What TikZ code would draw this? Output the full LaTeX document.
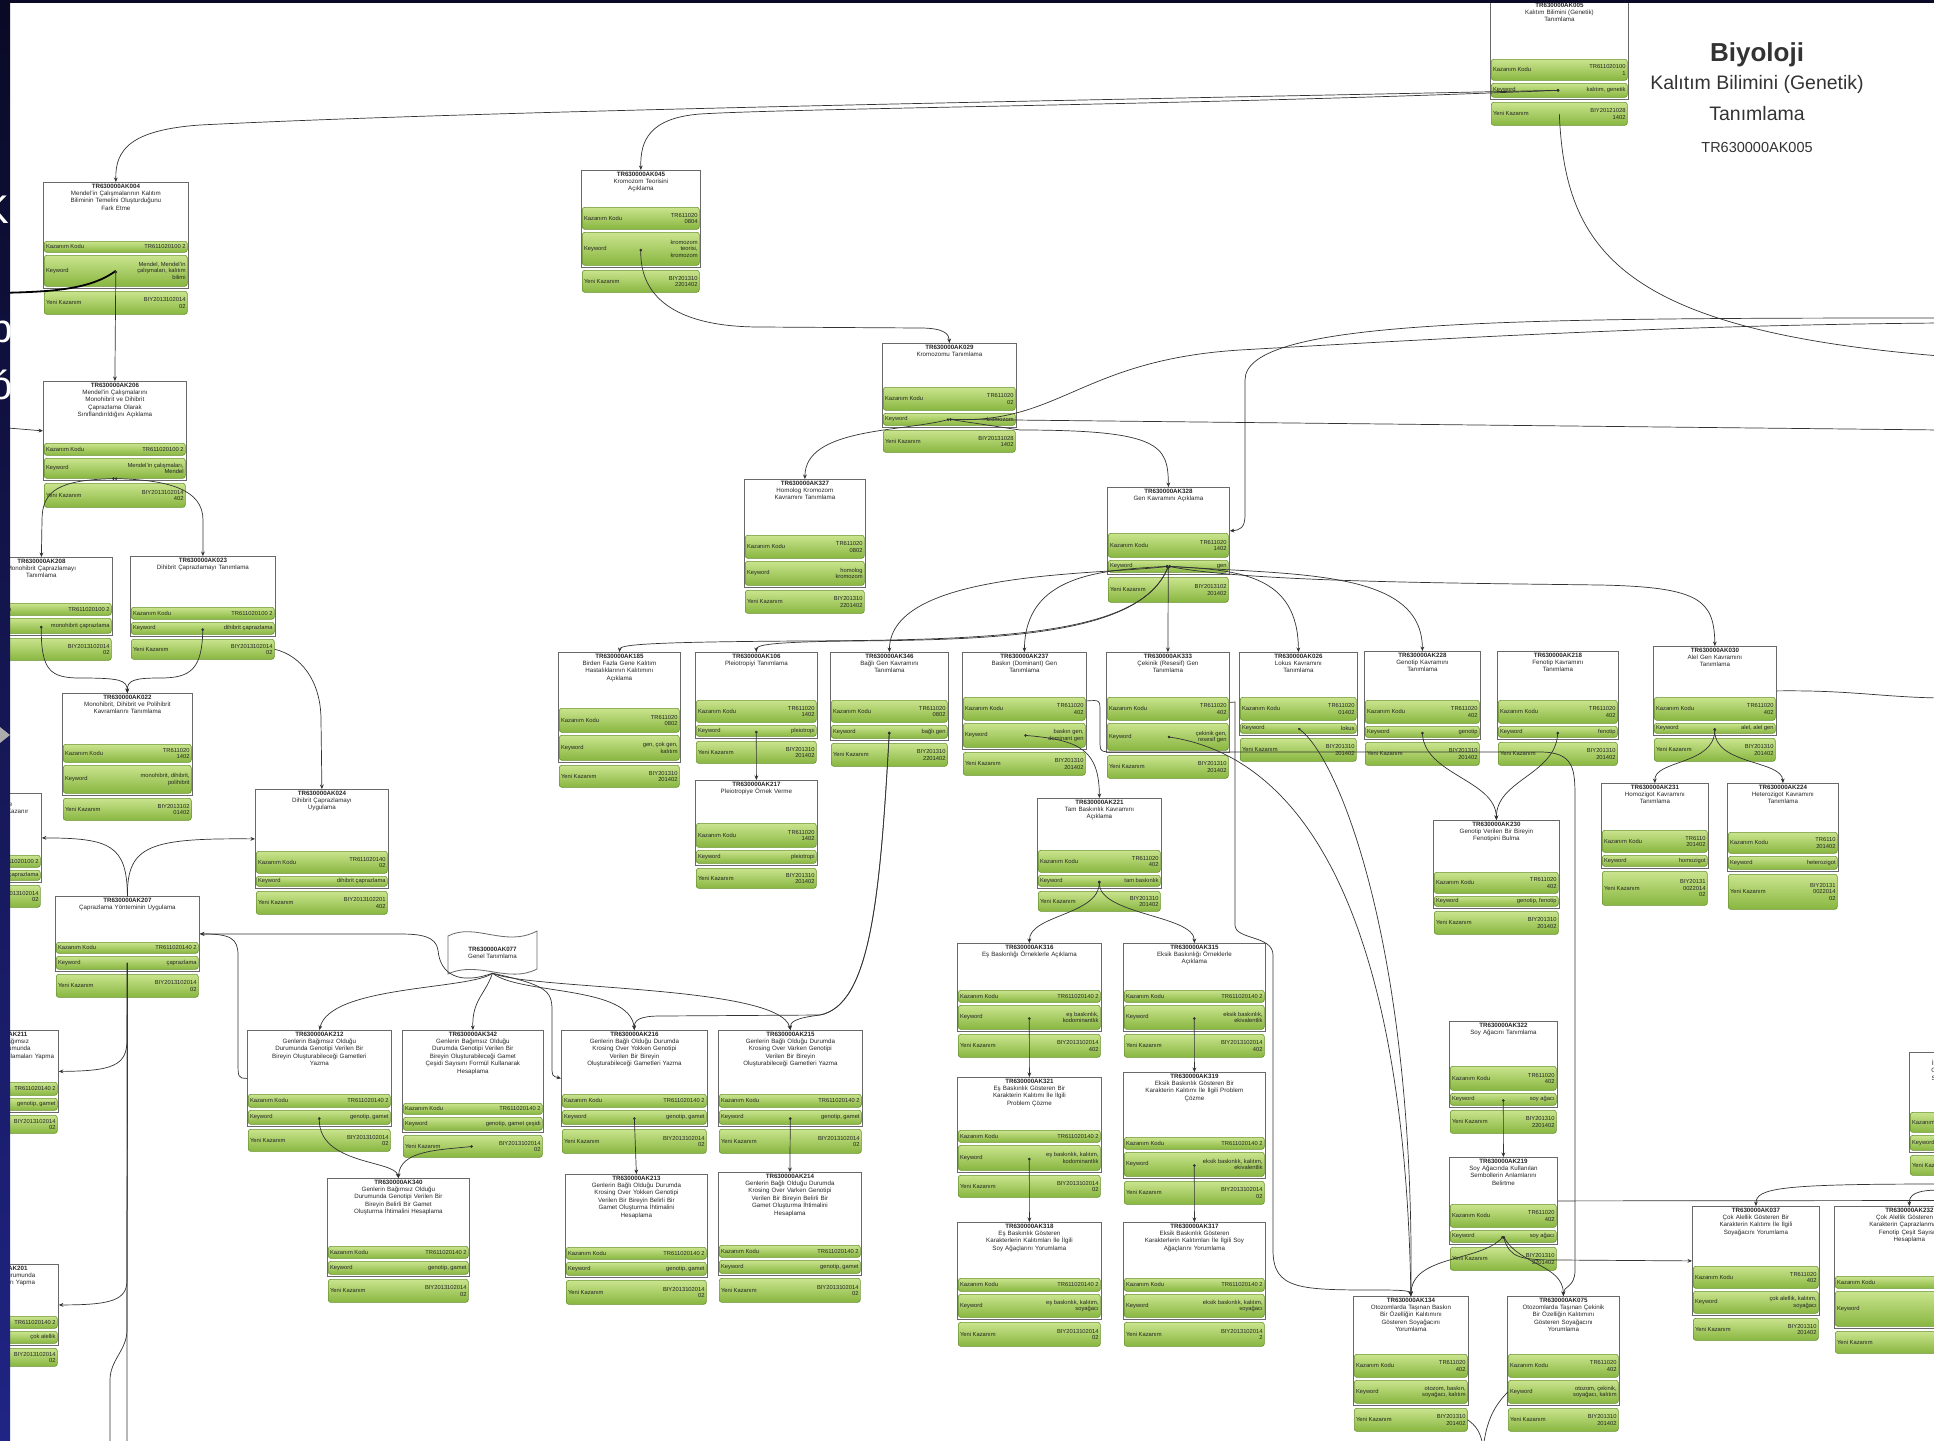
\documentclass[tikz,border=0pt]{standalone}
\usepackage{fontspec}
\setmainfont{Liberation Sans}
\usetikzlibrary{arrows.meta}
\definecolor{kzgt}{RGB}{202,228,142}
\definecolor{kzgb}{RGB}{136,182,64}
\definecolor{kzgd}{RGB}{104,146,46}
\definecolor{kzline}{RGB}{105,105,105}
\definecolor{navyA}{RGB}{10,10,38}
\definecolor{navyB}{RGB}{32,36,132}
\tikzset{
 kzbox/.style={draw=kzline, fill=white, line width=0.8pt, inner sep=0pt},
 kztitle/.style={inner sep=0pt, align=center, font=\fontsize{6.2}{7.4}\selectfont, text=black!85},
 kzbarst/.style={draw=kzgd, line width=0.6pt, rounded corners=2.5pt, top color=kzgt, bottom color=kzgb, inner sep=0pt},
 kzlab/.style={inner sep=1.8pt, font=\fontsize{5.8}{6.5}\selectfont, text=black!85},
 con/.style={draw=black!80, line width=0.7pt, -{Stealth[length=4.5pt,width=3.8pt]}},
 cond/.style={draw=black!80, line width=0.7pt, {Circle[length=2.6pt]}-{Stealth[length=4.5pt,width=3.8pt]}},
 link/.style={draw=black!80, line width=0.7pt},
 bigtitle/.style={text=black!80, inner sep=0pt},
}
\pgfkeys{/kz/.cd,
 name/.store in=\kzname, x/.store in=\kzx, y/.store in=\kzy, w/.store in=\kzw,
 th/.store in=\kzth, a/.store in=\kza, b/.store in=\kzb, c/.store in=\kzc,
 id/.store in=\kzid, t/.store in=\kzt, kk/.store in=\kzkk, kw/.store in=\kzkw, yk/.store in=\kzyk}
\newcommand\kzbar[5]{%
 \node[kzbarst, minimum width=\kzbw pt, minimum height=#3 pt, anchor=north west] (#1) at (\kzx+1,#2) {};
 \node[kzlab, anchor=west] at (#1.west) {#4};
 \node[kzlab, anchor=east, align=right] at (#1.east) {#5};
}
\newcommand\kz[1]{%
 \pgfkeys{/kz/.cd, w=122, th=50, a=22, b=12, c=22, t={}, kk={TR611020\\1402}, kw={gen}, yk={BIY2013102014\\02}, #1}%
 \pgfmathsetmacro\kzH{\kzth+\kza+\kzb+5}%
 \pgfmathsetmacro\kzya{\kzy+\kzth}%
 \pgfmathsetmacro\kzyb{\kzy+\kzth+\kza+3}%
 \pgfmathsetmacro\kzyc{\kzy+\kzH+3}%
 \pgfmathsetmacro\kzbw{\kzw-2}%
 \pgfmathsetmacro\kztw{\kzw-4}%
 \node[kzbox, minimum width=\kzw pt, minimum height=\kzH pt, anchor=north west] (\kzname) at (\kzx,\kzy) {};
 \node[kztitle, text width=\kztw pt, anchor=north] at ([yshift=-1.5pt]\kzname.north) {\textbf{\kzid}\\\kzt};
 \kzbar{\kzname-kk}{\kzya}{\kza}{Kazanım Kodu}{\kzkk}
 \kzbar{\kzname-kw}{\kzyb}{\kzb}{Keyword}{\kzkw}
 \kzbar{\kzname-yk}{\kzyc}{\kzc}{Yeni Kazanım}{\kzyk}
}
\begin{document}
\begin{tikzpicture}[x=1pt,y=-1pt]
\useasboundingbox (0,0) rectangle (1934,1440);
\clip (0,0) rectangle (1934,1440);
\fill[white] (0,0) rectangle (1934,1440);

% ---------- nodes ----------
\kz{name=ak005, x=1490, y=1, w=138, th=58, a=21, b=14, c=23, id=TR630000AK005, t={Kalıtım Bilimini (Genetik)\\Tanımlama}, kk={TR611020100\\1}, kw={kalıtım, genetik}, yk={BIY20121028\\1402}}
\kz{name=ak004, x=43, y=182, w=145, th=59, a=11, b=31, c=23, id=TR630000AK004, t={Mendel'in Çalışmalarının Kalıtım\\Biliminin Temelini Oluşturduğunu\\Fark Etme}, kk={TR611020100 2}, kw={Mendel, Mendel'in\\çalışmaları, kalıtım\\bilimi}, yk={BIY2013102014\\02}}
\kz{name=ak045, x=581, y=170, w=119, th=37, a=22, b=33, c=22, id=TR630000AK045, t={Kromozom Teorisini\\Açıklama}, kk={TR611020\\0804}, kw={kromozom\\teorisi,\\kromozom}, yk={BIY201310\\2201402}}
\kz{name=ak029, x=882, y=343, w=134, th=44, a=23, b=12, c=22, id=TR630000AK029, t={Kromozomu Tanımlama}, kk={TR611020\\02}, kw={kromozom}, yk={BIY20131028\\1402}}
\kz{name=ak206, x=43, y=381, w=143, th=62, a=12, b=20, c=24, id=TR630000AK206, t={Mendel'in Çalışmalarını\\Monohibrit ve Dihibrit\\Çaprazlama Olarak\\Sınıflandırıldığını Açıklama}, kk={TR611020100 2}, kw={Mendel'in çalışmaları,\\Mendel}, yk={BIY2013102014\\402}}
\kz{name=ak208, x=-30, y=557, w=142, th=46, a=12, b=15, c=22, id=TR630000AK208, t={Monohibrit Çaprazlamayı\\Tanımlama}, kk={TR611020100 2}, kw={monohibrit çaprazlama}, yk={BIY2013102014\\02}}
\kz{name=ak023, x=130, y=556, w=145, th=51, a=12, b=12, c=20, id=TR630000AK023, t={Dihibrit Çaprazlamayı Tanımlama}, kk={TR611020100 2}, kw={dihibrit çaprazlama}, yk={BIY2013102014\\02}}
\kz{name=ak022, x=62, y=693, w=130, th=51, a=18, b=28, c=22, id=TR630000AK022, t={Monohibrit, Dihibrit ve Polihibrit\\Kavramlarını Tanımlama}, kk={TR611020\\1402}, kw={monohibrit, dihibrit,\\polihibrit}, yk={BIY2013102\\01402}}
\kz{name=ak024, x=255, y=789, w=133, th=62, a=22, b=10, c=23, id=TR630000AK024, t={Dihibrit Çaprazlamayı\\Uygulama}, kk={TR611020140\\02}, kw={dihibrit çaprazlama}, yk={BIY2013102201\\402}}
\kz{name=ak207, x=55, y=896, w=144, th=46, a=11, b=13, c=23, id=TR630000AK207, t={Çaprazlama Yönteminin Uygulama}, kk={TR611020140 2}, kw={çaprazlama}, yk={BIY2013102014\\02}}
\kz{name=l1, x=-90, y=793, w=131, th=62, a=12, b=10, c=22, id=TR630000AK209, t={Monohibrit Çaprazlama İle\\İlgili Problem Çözme Becerisi Kazanır\\Uygulama}, kk={TR611020100 2}, kw={monohibrit çaprazlama}, yk={BIY2013102014\\02}}
\kz{name=l2, x=-52, y=1030, w=110, th=52, a=13, b=12, c=18, id=TR630000AK211, t={Genlerin Bağımsız Olduğu Durumunda\\Gamet Çeşidi Hesaplamaları Yapma}, kk={TR611020140 2}, kw={genotip, gamet}, yk={BIY2013102014\\02}}
\kz{name=l3, x=-52, y=1264, w=110, th=52, a=12, b=12, c=18, id=TR630000AK201, t={Çok Alellik Durumunda\\Çaprazlamaları Yapma}, kk={TR611020140 2}, kw={çok alellik}, yk={BIY2013102014\\02}}

\kz{name=ak327, x=744, y=479, w=121, th=56, a=23, b=24, c=23, id=TR630000AK327, t={Homolog Kromozom\\Kavramını Tanımlama}, kk={TR611020\\0802}, kw={homolog\\kromozom}, yk={BIY201310\\2201402}}
\kz{name=ak328, x=1107, y=487, w=122, th=46, a=24, b=12, c=25, id=TR630000AK328, t={Gen Kavramını Açıklama}, kk={TR611020\\1402}, kw={gen}, yk={BIY2013102\\201402}}
\kz{name=ak185, x=558, y=652, w=122, th=56, a=24, b=25, c=22, id=TR630000AK185, t={Birden Fazla Gene Kalıtım\\Hastalıklarının Kalıtımını\\Açıklama}, kk={TR611020\\0802}, kw={gen, çok gen,\\kalıtım}, yk={BIY201310\\201402}}
\kz{name=ak106, x=695, y=652, w=122, th=48, a=22, b=11, c=22, id=TR630000AK106, t={Pleiotropiyi Tanımlama}, kk={TR611020\\1402}, kw={pleiotropi}, yk={BIY201310\\201402}}
\kz{name=ak217, x=695, y=780, w=122, th=43, a=24, b=13, c=20, id=TR630000AK217, t={Pleiotropiye Örnek Verme}, kk={TR611020\\1402}, kw={pleiotropi}, yk={BIY201310\\201402}}
\kz{name=ak346, x=830, y=652, w=118, th=48, a=22, b=13, c=23, id=TR630000AK346, t={Bağlı Gen Kavramını\\Tanımlama}, kk={TR611020\\0802}, kw={bağlı gen}, yk={BIY201310\\2201402}}
\kz{name=ak237, x=962, y=652, w=124, th=45, a=23, b=24, c=23, id=TR630000AK237, t={Baskın (Dominant) Gen\\Tanımlama}, kk={TR611020\\402}, kw={baskın gen,\\dominant gen}, yk={BIY201310\\201402}}
\kz{name=ak333, x=1106, y=652, w=123, th=45, a=23, b=27, c=23, id=TR630000AK333, t={Çekinik (Resesif) Gen\\Tanımlama}, kk={TR611020\\402}, kw={çekinik gen,\\resesif gen}, yk={BIY201310\\201402}}
\kz{name=ak026, x=1239, y=652, w=118, th=45, a=23, b=10, c=23, id=TR630000AK026, t={Lokus Kavramını\\Tanımlama}, kk={TR611020\\01402}, kw={lokus}, yk={BIY201310\\201402}}
\kz{name=ak228, x=1364, y=651, w=116, th=49, a=23, b=11, c=23, id=TR630000AK228, t={Genotip Kavramını\\Tanımlama}, kk={TR611020\\402}, kw={genotip}, yk={BIY201310\\201402}}
\kz{name=ak218, x=1497, y=651, w=121, th=49, a=23, b=11, c=23, id=TR630000AK218, t={Fenotip Kavramını\\Tanımlama}, kk={TR611020\\402}, kw={fenotip}, yk={BIY201310\\201402}}
\kz{name=ak030, x=1653, y=646, w=123, th=51, a=23, b=10, c=23, id=TR630000AK030, t={Alel Gen Kavramını\\Tanımlama}, kk={TR611020\\402}, kw={alel, alel gen}, yk={BIY201310\\201402}}
\kz{name=ak231, x=1601, y=783, w=107, th=47, a=22, b=11, c=34, id=TR630000AK231, t={Homozigot Kavramını\\Tanımlama}, kk={TR6110\\201402}, kw={homozigot}, yk={BIY20131\\0022014\\02}}
\kz{name=ak224, x=1727, y=783, w=111, th=49, a=21, b=13, c=35, id=TR630000AK224, t={Heterozigot Kavramını\\Tanımlama}, kk={TR6110\\201402}, kw={heterozigot}, yk={BIY20131\\0022014\\02}}
\kz{name=ak230, x=1433, y=820, w=126, th=52, a=21, b=10, c=23, id=TR630000AK230, t={Genotip Verilen Bir Bireyin\\Fenotipini Bulma}, kk={TR611020\\402}, kw={genotip, fenotip}, yk={BIY201310\\201402}}
\kz{name=ak221, x=1037, y=798, w=124, th=52, a=22, b=11, c=20, id=TR630000AK221, t={Tam Baskınlık Kavramını\\Açıklama}, kk={TR611020\\402}, kw={tam baskınlık}, yk={BIY201310\\201402}}
\kz{name=ak316, x=957, y=943, w=144, th=47, a=12, b=24, c=23, id=TR630000AK316, t={Eş Baskınlığı Örneklerle Açıklama}, kk={TR611020140 2}, kw={eş baskınlık,\\kodominantlık}, yk={BIY2013102014\\402}}
\kz{name=ak315, x=1123, y=943, w=142, th=47, a=12, b=24, c=23, id=TR630000AK315, t={Eksik Baskınlığı Örneklerle\\Açıklama}, kk={TR611020140 2}, kw={eksik baskınlık,\\ekivalentlik}, yk={BIY2013102014\\402}}
\kz{name=ak321, x=957, y=1077, w=144, th=53, a=12, b=25, c=22, id=TR630000AK321, t={Eş Baskınlık Gösteren Bir\\Karakterin Kalıtımı İle İlgili\\Problem Çözme}, kk={TR611020140 2}, kw={eş baskınlık, kalıtım,\\kodominantlık}, yk={BIY2013102014\\02}}
\kz{name=ak319, x=1123, y=1072, w=142, th=65, a=12, b=24, c=23, id=TR630000AK319, t={Eksik Baskınlık Gösteren Bir\\Karakterin Kalıtımı İle İlgili Problem\\Çözme}, kk={TR611020140 2}, kw={eksik baskınlık, kalıtım,\\ekivalentlik}, yk={BIY2013102014\\02}}
\kz{name=ak318, x=957, y=1222, w=144, th=56, a=13, b=23, c=24, id=TR630000AK318, t={Eş Baskınlık Gösteren\\Karakterlerin Kalıtımları İle İlgili\\Soy Ağaçlarını Yorumlama}, kk={TR611020140 2}, kw={eş baskınlık, kalıtım,\\soyağacı}, yk={BIY2013102014\\02}}
\kz{name=ak317, x=1123, y=1222, w=142, th=56, a=13, b=23, c=24, id=TR630000AK317, t={Eksik Baskınlık Gösteren\\Karakterlerin Kalıtımları İle İlgili Soy\\Ağaçlarını Yorumlama}, kk={TR611020140 2}, kw={eksik baskınlık, kalıtım,\\soyağacı}, yk={BIY2013102014\\2}}

\kz{name=ak212, x=247, y=1030, w=144, th=64, a=13, b=14, c=22, id=TR630000AK212, t={Genlerin Bağımsız Olduğu\\Durumunda Genotipi Verilen Bir\\Bireyin Oluşturabileceği Gametleri\\Yazma}, kk={TR611020140 2}, kw={genotip, gamet}, yk={BIY2013102014\\02}}
\kz{name=ak342, x=402, y=1030, w=141, th=73, a=11, b=13, c=22, id=TR630000AK342, t={Genlerin Bağımsız Olduğu\\Durumda Genotipi Verilen Bir\\Bireyin Oluşturabileceği Gamet\\Çeşidi Sayısını Formül Kullanarak\\Hesaplama}, kk={TR611020140 2}, kw={genotip, gamet çeşidi}, yk={BIY2013102014\\02}}
\kz{name=ak216, x=561, y=1030, w=146, th=64, a=13, b=14, c=24, id=TR630000AK216, t={Genlerin Bağlı Olduğu Durumda\\Krosing Over Yokken Genotipi\\Verilen Bir Bireyin\\Oluşturabileceği Gametleri Yazma}, kk={TR611020140 2}, kw={genotip, gamet}, yk={BIY2013102014\\02}}
\kz{name=ak215, x=718, y=1030, w=144, th=64, a=13, b=14, c=24, id=TR630000AK215, t={Genlerin Bağlı Olduğu Durumda\\Krosing Over Varken Genotipi\\Verilen Bir Bireyin\\Oluşturabileceği Gametleri Yazma}, kk={TR611020140 2}, kw={genotip, gamet}, yk={BIY2013102014\\02}}
\kz{name=ak340, x=327, y=1178, w=142, th=68, a=12, b=13, c=23, id=TR630000AK340, t={Genlerin Bağımsız Olduğu\\Durumunda Genotipi Verilen Bir\\Bireyin Belirli Bir Gamet\\Oluşturma İhtimalini Hesaplama}, kk={TR611020140 2}, kw={genotip, gamet}, yk={BIY2013102014\\02}}
\kz{name=ak213, x=565, y=1174, w=142, th=73, a=12, b=13, c=24, id=TR630000AK213, t={Genlerin Bağlı Olduğu Durumda\\Krosing Over Yokken Genotipi\\Verilen Bir Bireyin Belirli Bir\\Gamet Oluşturma İhtimalini\\Hesaplama}, kk={TR611020140 2}, kw={genotip, gamet}, yk={BIY2013102014\\02}}
\kz{name=ak214, x=718, y=1172, w=143, th=73, a=12, b=13, c=24, id=TR630000AK214, t={Genlerin Bağlı Olduğu Durumda\\Krosing Over Varken Genotipi\\Verilen Bir Bireyin Belirli Bir\\Gamet Oluşturma İhtimalini\\Hesaplama}, kk={TR611020140 2}, kw={genotip, gamet}, yk={BIY2013102014\\02}}

\kz{name=ak322, x=1449, y=1021, w=108, th=45, a=24, b=12, c=23, id=TR630000AK322, t={Soy Ağacını Tanımlama}, kk={TR611020\\402}, kw={soy ağacı}, yk={BIY201310\\2201402}}
\kz{name=ak219, x=1449, y=1157, w=108, th=47, a=23, b=12, c=23, id=TR630000AK219, t={Soy Ağacında Kullanılan\\Sembollerin Anlamlarını\\Belirtme}, kk={TR611020\\402}, kw={soy ağacı}, yk={BIY201310\\2201402}}
\kz{name=ak134, x=1353, y=1296, w=115, th=58, a=23, b=23, c=23, id=TR630000AK134, t={Otozomlarda Taşınan Baskın\\Bir Özelliğin Kalıtımını\\Gösteren Soyağacını\\Yorumlama}, kk={TR611020\\402}, kw={otozom, baskın,\\soyağacı, kalıtım}, yk={BIY201310\\201402}}
\kz{name=ak075, x=1507, y=1296, w=112, th=58, a=23, b=23, c=23, id=TR630000AK075, t={Otozomlarda Taşınan Çekinik\\Bir Özelliğin Kalıtımını\\Gösteren Soyağacını\\Yorumlama}, kk={TR611020\\402}, kw={otozom, çekinik,\\soyağacı, kalıtım}, yk={BIY201310\\201402}}
\kz{name=ak037, x=1692, y=1206, w=127, th=60, a=22, b=22, c=22, id=TR630000AK037, t={Çok Alellik Gösteren Bir\\Karakterin Kalıtımı İle İlgili\\Soyağacını Yorumlama}, kk={TR611020\\402}, kw={çok alellik, kalıtım,\\soyağacı}, yk={BIY201310\\201402}}
\kz{name=ak232, x=1834, y=1206, w=150, th=70, a=12, b=35, c=22, id=TR630000AK232, t={Çok Alellik Gösteren Bir\\Karakterin Çaprazlanması ile\\Fenotip Çeşit Sayısını\\Hesaplama}, kk={TR611020140 2}, kw={çok alellik,\\çaprazlama,\\fenotip}, yk={BIY2013102014\\02}}
\kz{name=r1, x=1909, y=1052, w=100, th=60, a=20, b=15, c=20, id=TR630000AK233, t={İki Gen Bakımından\\Oluşabilecek Gamet\\Sayısını Hesaplama}, kk={TR611020\\402}, kw={gamet}, yk={BIY201310\\201402}}

% ribbon node
\draw[kzbox] (448,936) .. controls (475,922) and (505,948) .. (537,931) -- (537,969) .. controls (508,984) and (478,960) .. (448,974) -- cycle;
\node[kztitle, minimum width=89pt, minimum height=40pt] (ak077) at (492.5,953) {\textbf{TR630000AK077}\\Genel Tanımlama};

% ---------- exit coordinates ----------
\coordinate (thickL) at (-5,293);
\coordinate (linA) at (8,428);
\coordinate (eA) at (1940,356);
\coordinate (eB) at (1940,323);
\coordinate (eC) at (1940,318);
\coordinate (eD) at (1940,430);
\coordinate (eE) at (1940,698);
\coordinate (eF) at (1940,1200.5);
\coordinate (eG) at (1940,1184);
\coordinate (eH) at (1940,1190);
\coordinate (bA) at (127,1450);
\coordinate (bB) at (110,1450);
\coordinate (bC) at (1483,1450);

% ---------- connectors ----------
\draw[cond] (ak005-kw.center) .. controls (1100,100) and (500,110) .. (200,125) .. controls (130,130) and (115,150) .. (ak004.north);
\draw[cond] (ak005-kw.center) .. controls (1200,105) and (800,108) .. (700,114) .. controls (650,118) and (640,140) .. (ak045.north);
\draw[link] (ak005-yk.center) .. controls (1565,250) and (1620,330) .. (eA);
\draw[link, line width=1.8pt, black] (thickL) .. controls (50,292) and (90,290) .. (ak004-kw.center);
\draw[cond] (ak004-kw.center) -- (ak206.north);
\draw[con] (linA) -- (ak206.west);
\draw[cond] (ak045-kw.center) .. controls (640,300) and (680,327) .. (760,327) -- (920,328) .. controls (946,328) and (949,335) .. (ak029.north);
\draw[cond] (ak029-kw.center) .. controls (900,432) and (805,428) .. (ak327.north);
\draw[cond] (ak029-kw.center) -- (1020,430) .. controls (1160,430) and (1168,445) .. (ak328.north);
\draw[link] (ak029-kw.center) -- (eD);
\draw[link] (ak029-kw.center) .. controls (1060,425) and (1080,360) .. (1240,350) .. controls (1500,335) and (1700,325) .. (eB);
\draw[con] (eC) .. controls (1500,318) and (1245,320) .. (1245,380) -- (1245,515) .. controls (1245,528) and (1240,530) .. (ak328.east);

\draw[cond] (ak206-kw.south) .. controls (60,480) and (42,490) .. (42,520) -- (ak208.north);
\draw[cond] (ak206-kw.south) .. controls (170,480) and (203,490) .. (203,520) -- (ak023.north);
\draw[cond] (ak208-kw.center) .. controls (41,670) and (50,678) .. (80,678) .. controls (120,678) and (127,680) .. (ak022.north);
\draw[cond] (ak023-kw.center) .. controls (202,670) and (190,678) .. (160,678) .. controls (135,678) and (127,680) .. (ak022.north);
\draw[con] (ak023-yk.east) .. controls (300,655) and (321,680) .. (321,720) -- (ak024.north);
\draw[con] (ak207.north) .. controls (127,845) and (110,838) .. (l1.east);
\draw[con] (ak207.north) .. controls (127,845) and (150,838) .. (ak024.west);
\draw[link] (ak207-kw.center) -- (bA);
\draw[con] (ak207-kw.center) -- (127,1040) .. controls (127,1066) and (112,1071) .. (l2.east);
\draw[con] (ak207-kw.center) -- (127,1280) .. controls (127,1300) and (112,1305) .. (l3.east);
\draw[link] (ak207-kw.center) -- (127,1330) .. controls (127,1350) and (110,1360) .. (110,1380) -- (bB);

\draw[con] (ak077.south) .. controls (460,985) and (440,975) .. (438,950) .. controls (436,936) and (420,934) .. (400,934) -- (ak207.east);
\draw[con] (ak212.west) .. controls (238,1078) .. (238,1060) -- (238,955) .. controls (238,938) and (230,934) .. (ak207.east);
\draw[con] (ak077.south) .. controls (470,990) and (330,985) .. (ak212.north);
\draw[con] (ak077.south) .. controls (485,995) and (472,1000) .. (ak342.north);
\draw[con] (ak077.south) .. controls (520,995) and (630,985) .. (ak216.north);
\draw[con] (ak077.south) .. controls (530,990) and (780,985) .. (ak215.north);
\draw[con] (ak077.south) .. controls (545,985) and (552,990) .. (552,1010) -- (552,1065) .. controls (552,1076) .. (ak216.west);
\draw[cond] (ak346-kw.center) .. controls (880,900) and (870,1005) .. (820,1015) .. controls (795,1018) and (790,1022) .. (ak215.north);
\draw[cond] (ak346-kw.center) .. controls (880,900) and (870,1005) .. (820,1015) -- (660,1016) .. controls (640,1016) and (634,1020) .. (ak216.north);
\draw[cond] (ak212-kw.center) .. controls (319,1165) and (395,1160) .. (ak340.north);
\draw[cond] (ak342-yk.center) .. controls (440,1150) and (400,1150) .. (ak340.north);
\draw[cond] (ak216-kw.center) -- (ak213.north);
\draw[cond] (ak215-kw.center) -- (ak214.north);

\draw[cond] (ak328-kw.center) .. controls (1140,635) and (1000,640) .. (800,641) .. controls (640,642) and (620,645) .. (ak185.north);
\draw[cond] (ak328-kw.center) .. controls (1140,635) and (1000,640) .. (850,641) .. controls (770,642) and (756,645) .. (ak106.north);
\draw[cond] (ak328-kw.center) .. controls (1100,575) and (890,570) .. (ak346.north);
\draw[cond] (ak328-kw.center) .. controls (1100,570) and (1025,575) .. (ak237.north);
\draw[cond] (ak328-kw.center) -- (ak333.north);
\draw[cond] (ak328-kw.center) .. controls (1240,570) and (1298,575) .. (ak026.north);
\draw[cond] (ak328-kw.center) .. controls (1300,575) and (1422,570) .. (ak228.north);
\draw[cond] (ak328-kw.center) .. controls (1250,582) and (1450,583) .. (1600,585) .. controls (1700,587) and (1714,600) .. (ak030.north);
\draw[cond] (ak106-kw.center) -- (ak217.north);
\draw[cond] (ak237-kw.center) .. controls (1080,740) and (1099,750) .. (ak221.north);
\draw[con] (ak237.east) .. controls (1100,700) .. (1100,712) -- (1100,740) .. controls (1100,752) .. (1115,752) -- (1540,752) .. controls (1575,752) and (1575,770) .. (1575,800) -- (1575,1270) .. controls (1575,1288) and (1563,1286) .. (ak075.north);
\draw[cond] (ak221-kw.center) .. controls (1099,915) and (1029,915) .. (ak316.north);
\draw[cond] (ak221-kw.center) .. controls (1099,915) and (1194,915) .. (ak315.north);
\draw[cond] (ak316-kw.center) -- (ak321.north);
\draw[cond] (ak315-kw.center) -- (ak319.north);
\draw[cond] (ak321-kw.center) -- (ak318.north);
\draw[cond] (ak319-kw.center) -- (ak317.north);
\draw[con] (ak333.east) -- (1235,702) -- (1235,925) .. controls (1235,940) and (1273,935) .. (1273,955) -- (1273,1250) .. controls (1273,1290) and (1300,1290) .. (1380,1290) .. controls (1405,1290) and (1410,1291) .. (ak134.north);
\draw[cond] (ak333-kw.center) .. controls (1320,760) and (1405,950) .. (ak134.north);
\draw[cond] (ak026-kw.center) .. controls (1340,760) and (1415,950) .. (ak134.north);
\draw[cond] (ak228-kw.center) .. controls (1425,775) and (1496,780) .. (ak230.north);
\draw[cond] (ak218-kw.center) .. controls (1555,775) and (1496,780) .. (ak230.north);
\draw[cond] (ak030-kw.center) .. controls (1714,765) and (1654,760) .. (ak231.north);
\draw[cond] (ak030-kw.center) .. controls (1714,765) and (1782,760) .. (ak224.north);
\draw[link] (ak030.east) .. controls (1850,690) and (1880,697) .. (eE);
\draw[cond] (ak322-kw.center) -- (ak219.north);
\draw[cond] (ak219-kw.center) .. controls (1480,1262) and (1412,1255) .. (ak134.north);
\draw[cond] (ak219-kw.center) .. controls (1520,1265) and (1563,1265) .. (ak075.north);
\draw[cond] (ak219-kw.center) .. controls (1510,1258) and (1520,1260) .. (1560,1260) -- (ak037.west);
\draw[link] (ak219.east) -- (eF);
\draw[con] (eG) .. controls (1780,1184) and (1756,1188) .. (ak037.north);
\draw[con] (eH) .. controls (1915,1190) and (1909,1195) .. (ak232.north);
\draw[link] (ak134-yk.east) .. controls (1475,1425) and (1482,1432) .. (bC);
\draw[link] (ak075-kw.west) .. controls (1495,1405) and (1486,1420) .. (bC);

% ---------- title ----------
\node[bigtitle, font=\fontsize{26}{30}\selectfont\bfseries] (tt1) at (1757,55) {Biyoloji};
\node[bigtitle, font=\fontsize{19.5}{22}\selectfont] (tt2) at (1757,84) {Kalıtım Bilimini (Genetik)};
\node[bigtitle, font=\fontsize{19.5}{22}\selectfont] (tt3) at (1757,114) {Tanımlama};
\node[bigtitle, font=\fontsize{14.5}{16}\selectfont] (tt4) at (1757,148) {TR630000AK005};

% ---------- slide edge ----------
\shade[top color=navyA, bottom color=navyB] (0,0) rectangle (10,1440);
\fill[navyA] (0,0) rectangle (1934,3);
\begin{scope}
\clip (0,0) rectangle (10,1440);
\node[text=white, font=\fontsize{40}{40}\selectfont, anchor=east, inner sep=0pt] (fr1) at (9,210) {K};
\node[text=white, font=\fontsize{40}{40}\selectfont, anchor=east, inner sep=0pt] (fr2) at (13,328) {b};
\node[text=white, font=\fontsize{40}{40}\selectfont, anchor=east, inner sep=0pt] (fr3) at (13,385) {ó};
\end{scope}
\fill[gray!65] (0,727) -- (10,735) -- (0,743) -- cycle;
\end{tikzpicture}
\end{document}
